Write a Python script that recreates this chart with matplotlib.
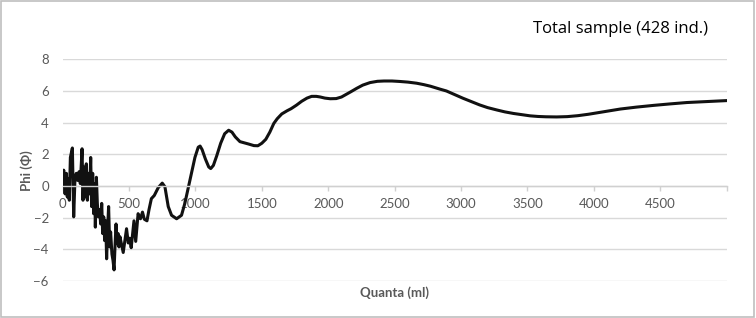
import matplotlib
matplotlib.use("Agg")
import matplotlib.pyplot as plt
from matplotlib.patches import Rectangle

# ---- data ----
quanta = [
    0, 8, 18, 28, 35, 43, 50, 58, 73, 83, 93, 103, 113, 123, 133, 146, 153, 161,
    168, 178, 186, 193, 203, 211, 218, 226, 233, 241, 246, 254, 261, 269, 279,
    286, 294, 301, 309, 316, 324, 331, 339, 346, 354, 361, 371, 379, 387, 394,
    402, 409, 417, 424, 431, 446, 456, 468, 481, 494, 505, 516, 537, 550, 568,
    586, 601, 615, 635, 650, 668, 690, 720, 750, 770, 795, 820, 858, 895, 920,
    958, 996, 1021, 1035, 1050, 1075, 1100, 1115, 1135, 1160, 1190, 1220, 1250,
    1275, 1300, 1335, 1370, 1400, 1440, 1470, 1500, 1530, 1560, 1590, 1616,
    1650, 1690, 1720, 1760, 1800, 1840, 1875, 1910, 1940, 1975, 2015, 2060,
    2100, 2130, 2170, 2215, 2260, 2315, 2370, 2420, 2480, 2540, 2600, 2666,
    2720, 2770, 2840, 2890, 2950, 3015, 3080, 3140, 3200, 3270, 3330, 3395,
    3460, 3520, 3580, 3640, 3720, 3800, 3880, 3960, 4070, 4200, 4320, 4450,
    4570, 4700, 4820, 4920, 4995,
]
phi = [
    0.0, 1.0, -0.5, 0.8, -0.7, 0.45, -0.9, 1.8, 2.4, -1.95, 0.55, 0.8, 0.35,
    0.9, 0.15, 2.35, -0.9, 1.2, -0.7, 1.4, -0.9, 0.8, -0.5, 1.8, -1.3, 0.8,
    -1.75, 0.15, -2.6, 0.55, -1.1, -1.95, -1.5, -2.4, -1.1, -3.0, -1.95, -3.45,
    -2.2, -4.6, -2.6, -1.3, -3.85, -2.9, -4.3, -4.7, -5.3, -3.85, -2.4, -3.65,
    -3.0, -3.85, -3.2, -3.8, -4.2, -3.5, -2.7, -3.6, -3.3, -3.9, -2.2, -3.5,
    -1.75, -2.07, -1.65, -2.1, -2.2, -1.5, -0.8, -0.6, -0.1, 0.18, -0.05, -1.3,
    -1.85, -2.07, -1.85, -1.1, 0.35, 1.8, 2.45, 2.52, 2.3, 1.7, 1.2, 1.1, 1.3,
    1.9, 2.7, 3.3, 3.52, 3.4, 3.1, 2.8, 2.72, 2.65, 2.55, 2.54, 2.7, 2.95, 3.4,
    3.95, 4.25, 4.55, 4.75, 4.88, 5.1, 5.35, 5.55, 5.66, 5.66, 5.62, 5.55,
    5.51, 5.52, 5.62, 5.76, 5.95, 6.17, 6.37, 6.53, 6.61, 6.63, 6.63, 6.6,
    6.56, 6.49, 6.4, 6.3, 6.12, 6.0, 5.78, 5.54, 5.32, 5.12, 4.95, 4.8, 4.68,
    4.58, 4.5, 4.43, 4.39, 4.37, 4.36, 4.38, 4.44, 4.53, 4.68, 4.86, 4.98,
    5.09, 5.18, 5.27, 5.32, 5.36, 5.39,
]
x_ticks = [0, 500, 1000, 1500, 2000, 2500, 3000, 3500, 4000, 4500]
y_ticks = [-6, -4, -2, 0, 2, 4, 6, 8]
title = "Total sample (428 ind.)"
x_label = "Quanta (ml)"
y_label = "Phi (Φ)"

# ---- figure ----
fig = plt.figure(figsize=(7.56, 3.18), dpi=100)
fig.patch.set_facecolor("white")
fig.patches.append(Rectangle((0.001, 0.002), 0.997, 0.995, transform=fig.transFigure,
                             fill=False, edgecolor="#bfbfbf", linewidth=1.2))

ax = fig.add_axes([0.0829, 0.1164, 0.8782, 0.6971])
ax.plot(quanta, phi, color="#111111", linewidth=2.2, solid_joinstyle="round")

ax.set_xlim(0, 5000)
ax.set_ylim(-6, 8)
ax.set_yticks(y_ticks)
ax.set_xticks(x_ticks + [5000])
ax.set_xticklabels([str(t) for t in x_ticks] + [""])

ax.grid(axis="y", color="#d9d9d9", linewidth=1.0)
ax.set_axisbelow(True)
for s in ["top", "right", "left"]:
    ax.spines[s].set_visible(False)
ax.spines["bottom"].set_position(("data", 0))
ax.spines["bottom"].set_color("#d0d0d0")
ax.spines["bottom"].set_linewidth(1.0)

ax.tick_params(axis="x", length=3.5, width=1.0, color="#d0d0d0", pad=5,
               labelcolor="#595959", labelsize=9.5)
ax.tick_params(axis="y", length=0, pad=10, labelcolor="#595959", labelsize=9.5)
for lab in ax.get_xticklabels() + ax.get_yticklabels():
    lab.set_fontfamily(["Lato", "DejaVu Sans"])

fig.text(0.5222, 0.079, x_label, ha="center", va="center", fontsize=9.5,
         fontweight="bold", color="#595959", family=["Lato", "DejaVu Sans"])
fig.text(0.035, 0.465, y_label, ha="center", va="center", fontsize=9.5,
         fontweight="bold", color="#595959", rotation=90,
         family=["Lato", "DejaVu Sans"])
fig.text(0.821, 0.909, title, ha="center", va="center", fontsize=12,
         color="black", family=["Open Sans", "DejaVu Sans"])

fig.savefig("out.png", dpi=100)
